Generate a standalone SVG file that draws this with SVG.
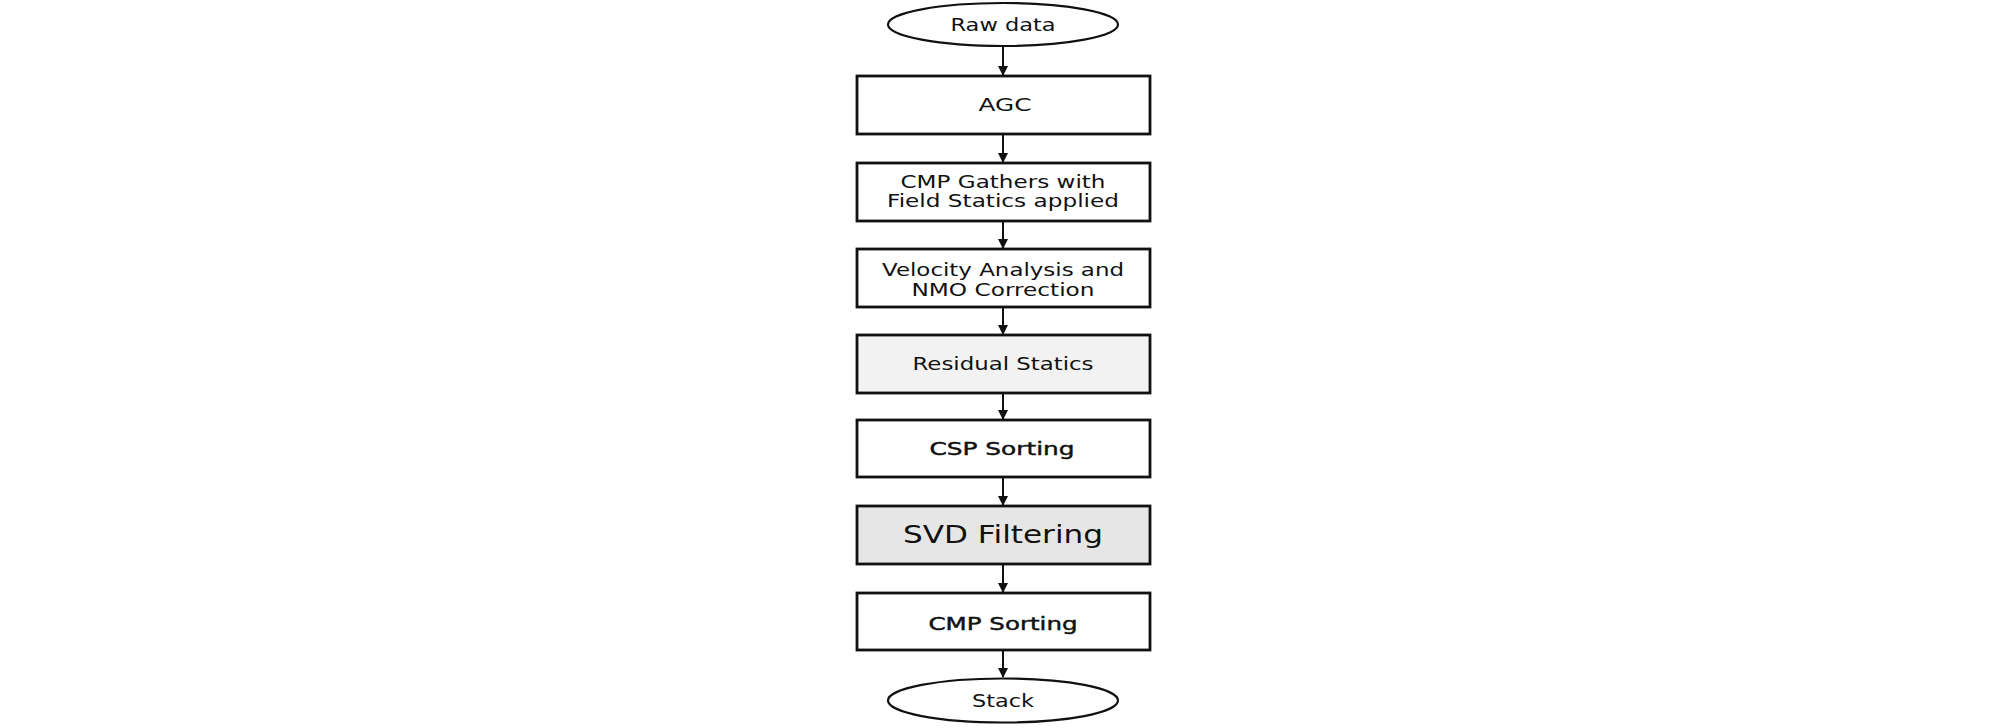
<svg xmlns="http://www.w3.org/2000/svg" width="2008" height="728" viewBox="0 0 2008 728">
<style>
.box{stroke:#111;stroke-width:2.8;fill:#fff}
.term{stroke:#111;stroke-width:2.2;fill:#fff}
.t{font-family:"DejaVu Sans","Liberation Sans",sans-serif;font-size:17.5px;fill:#111;text-anchor:middle}
.b{font-size:18.5px;stroke:#111;stroke-width:0.45}
.c{stroke:#111;stroke-width:2;fill:none;marker-end:url(#ah)}
</style>
<defs>
<marker id="ah" markerWidth="10" markerHeight="10" refX="9" refY="5" orient="auto" markerUnits="userSpaceOnUse">
<path d="M0,0 L10,5 L0,10 Z" fill="#111"/>
</marker>
</defs>
<rect width="2008" height="728" fill="#fff"/>
<g id="connectors">
<line class="c" x1="1003" y1="46" x2="1003" y2="75"/>
<line class="c" x1="1003" y1="134" x2="1003" y2="162"/>
<line class="c" x1="1003" y1="221" x2="1003" y2="248"/>
<line class="c" x1="1003" y1="307" x2="1003" y2="334"/>
<line class="c" x1="1003" y1="393" x2="1003" y2="419"/>
<line class="c" x1="1003" y1="477" x2="1003" y2="505"/>
<line class="c" x1="1003" y1="564" x2="1003" y2="592"/>
<line class="c" x1="1003" y1="650" x2="1003" y2="677"/>
</g>
<g id="raw">
<ellipse class="term" cx="1003" cy="24.5" rx="115" ry="21.5"/>
<text class="t" x="1003" y="31" textLength="105" lengthAdjust="spacingAndGlyphs">Raw data</text>
</g>
<g id="agc">
<rect class="box" x="857" y="76" width="293" height="58"/>
<text class="t" x="1005" y="111" textLength="53" lengthAdjust="spacingAndGlyphs">AGC</text>
</g>
<g id="cmpgathers">
<rect class="box" x="857" y="163" width="293" height="58"/>
<text class="t" x="1003" y="188" textLength="205" lengthAdjust="spacingAndGlyphs">CMP Gathers with</text>
<text class="t" x="1003" y="207" textLength="232" lengthAdjust="spacingAndGlyphs">Field Statics applied</text>
</g>
<g id="velocity">
<rect class="box" x="857" y="249" width="293" height="58"/>
<text class="t" x="1003" y="276" textLength="242" lengthAdjust="spacingAndGlyphs">Velocity Analysis and</text>
<text class="t" x="1003" y="296" textLength="183" lengthAdjust="spacingAndGlyphs">NMO Correction</text>
</g>
<g id="residual">
<rect class="box" x="857" y="335" width="293" height="58" style="fill:#f2f2f2"/>
<text class="t" x="1003" y="370" textLength="181" lengthAdjust="spacingAndGlyphs">Residual Statics</text>
</g>
<g id="csp">
<rect class="box" x="857" y="420" width="293" height="57"/>
<text class="t b" x="1002" y="455" textLength="145" lengthAdjust="spacingAndGlyphs">CSP Sorting</text>
</g>
<g id="svd">
<rect class="box" x="857" y="506" width="293" height="58" style="fill:#e6e6e6"/>
<text class="t" x="1003" y="543" style="font-size:24px" textLength="200" lengthAdjust="spacingAndGlyphs">SVD Filtering</text>
</g>
<g id="cmpsort">
<rect class="box" x="857" y="593" width="293" height="57"/>
<text class="t b" x="1003" y="630" textLength="149" lengthAdjust="spacingAndGlyphs">CMP Sorting</text>
</g>
<g id="stack">
<ellipse class="term" cx="1003" cy="700.5" rx="115" ry="22"/>
<text class="t" x="1003" y="707" textLength="62" lengthAdjust="spacingAndGlyphs">Stack</text>
</g>
</svg>
